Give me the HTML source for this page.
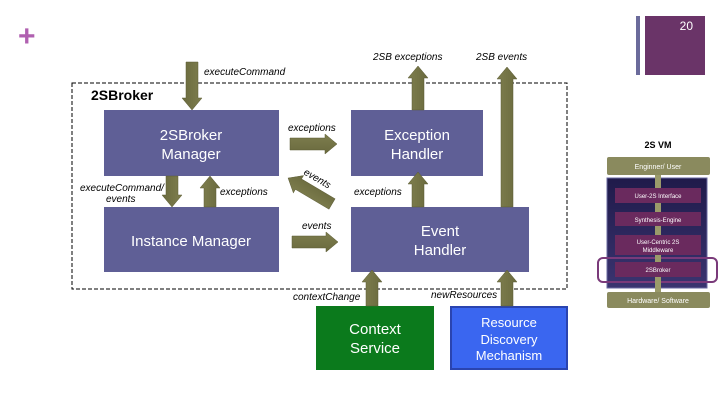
<!DOCTYPE html>
<html><head><meta charset="utf-8"><style>
html,body{margin:0;padding:0;background:#fff;}
svg{display:block;}
text{font-family:"Liberation Sans",sans-serif;}
</style></head><body>
<svg width="720" height="405" viewBox="0 0 720 405" xmlns="http://www.w3.org/2000/svg">
<defs>
<linearGradient id="ag" x1="0" y1="-1" x2="0" y2="1" gradientUnits="objectBoundingBox">
<stop offset="0" stop-color="#a4a47a"/><stop offset="0.5" stop-color="#7e7e4e"/><stop offset="1" stop-color="#6a6a3e"/>
</linearGradient>
<linearGradient id="vm" x1="0" y1="0" x2="0" y2="1">
<stop offset="0" stop-color="#1f1a4a"/><stop offset="1" stop-color="#3a3470"/>
</linearGradient>
<path id="ar" d="M0,-6 L-12,-6 L-12,-10 L0,0 L-12,10 L-12,6 Z"/>
</defs>
<!-- header -->
<text x="18" y="46" font-size="30" fill="#b060b0" font-weight="bold">+</text>
<rect x="636" y="16" width="4" height="59" fill="#6b6b9b"/>
<rect x="645" y="16" width="60" height="59" fill="#6a3468"/>
<text x="693" y="30" font-size="12" fill="#fff" text-anchor="end">20</text>

<!-- dashed container -->
<rect x="72" y="83" width="495" height="206" fill="none" stroke="#000" stroke-width="1" stroke-dasharray="4,2"/>
<text x="91" y="100" font-size="14" font-weight="bold">2SBroker</text>

<!-- boxes -->
<rect x="104" y="110" width="175" height="66" fill="#5f5f96"/>
<text x="191" y="140" font-size="15" fill="#fff" text-anchor="middle">2SBroker</text>
<text x="191" y="159" font-size="15" fill="#fff" text-anchor="middle">Manager</text>
<rect x="104" y="207" width="175" height="65" fill="#5f5f96"/>
<text x="191" y="246" font-size="15" fill="#fff" text-anchor="middle">Instance Manager</text>
<rect x="351" y="110" width="132" height="66" fill="#5f5f96"/>
<text x="417" y="140" font-size="15" fill="#fff" text-anchor="middle">Exception</text>
<text x="417" y="159" font-size="15" fill="#fff" text-anchor="middle">Handler</text>
<rect x="351" y="207" width="178" height="65" fill="#5f5f96"/>
<text x="440" y="236" font-size="15" fill="#fff" text-anchor="middle">Event</text>
<text x="440" y="255" font-size="15" fill="#fff" text-anchor="middle">Handler</text>
<rect x="316" y="306" width="118" height="64" fill="#0b7a1c"/>
<text x="375" y="334" font-size="15" fill="#fff" text-anchor="middle">Context</text>
<text x="375" y="353" font-size="15" fill="#fff" text-anchor="middle">Service</text>
<rect x="451" y="307" width="116" height="62" fill="#3a66f0" stroke="#2a44b0" stroke-width="2"/>
<text x="509" y="327" font-size="13" fill="#fff" text-anchor="middle">Resource</text>
<text x="509" y="344" font-size="13" fill="#fff" text-anchor="middle">Discovery</text>
<text x="509" y="360" font-size="13" fill="#fff" text-anchor="middle">Mechanism</text>

<!-- arrows -->
<g fill="url(#ag)" stroke="#5a5a34" stroke-width="0.5">
<path transform="translate(192,62) rotate(90)" d="M0,-6 L36,-6 L36,-10 L48,0 L36,10 L36,6 L0,6 Z"/>
<path transform="translate(172,176) rotate(90)" d="M0,-6 L19,-6 L19,-10 L31,0 L19,10 L19,6 L0,6 Z"/>
<path transform="translate(210,207) rotate(-90)" d="M0,-6 L19,-6 L19,-10 L31,0 L19,10 L19,6 L0,6 Z"/>
<path transform="translate(290,144)" d="M0,-6 L35,-6 L35,-10 L47,0 L35,10 L35,6 L0,6 Z"/>
<path transform="translate(332,204) rotate(210.6)" d="M0,-6 L39,-6 L39,-10 L51,0 L39,10 L39,6 L0,6 Z"/>
<path transform="translate(292,242)" d="M0,-6 L34,-6 L34,-10 L46,0 L34,10 L34,6 L0,6 Z"/>
<path transform="translate(418,207) rotate(-90)" d="M0,-6 L23,-6 L23,-10 L35,0 L23,10 L23,6 L0,6 Z"/>
<path transform="translate(418,110) rotate(-90)" d="M0,-6 L32,-6 L32,-10 L44,0 L32,10 L32,6 L0,6 Z"/>
<path transform="translate(507,207) rotate(-90)" d="M0,-6 L128,-6 L128,-10 L140,0 L128,10 L128,6 L0,6 Z"/>
<path transform="translate(372,306) rotate(-90)" d="M0,-6 L24,-6 L24,-10 L36,0 L24,10 L24,6 L0,6 Z"/>
<path transform="translate(507,306) rotate(-90)" d="M0,-6 L24,-6 L24,-10 L36,0 L24,10 L24,6 L0,6 Z"/>
</g>

<!-- labels -->
<g font-size="10" font-style="italic" fill="#000">
<text x="204" y="75">executeCommand</text>
<text x="373" y="60">2SB exceptions</text>
<text x="476" y="60">2SB events</text>
<text x="288" y="131">exceptions</text>
<text x="303" y="174" transform="rotate(30 303 174)">events</text>
<text x="80" y="191">executeCommand/</text>
<text x="106" y="202">events</text>
<text x="220" y="195">exceptions</text>
<text x="354" y="195">exceptions</text>
<text x="302" y="229">events</text>
<text x="293" y="300">contextChange</text>
<text x="431" y="298">newResources</text>
</g>

<!-- right mini diagram -->
<text x="658" y="148" font-size="9" font-weight="bold" text-anchor="middle">2S VM</text>
<rect x="607" y="157" width="103" height="18" rx="2" fill="#8a8a5e"/>
<text x="658" y="169" font-size="7" fill="#fff" text-anchor="middle">Enginner/ User</text>
<rect x="607" y="178" width="100" height="110" fill="url(#vm)" stroke="#6a6aa0" stroke-width="1"/>
<rect x="615" y="188" width="86" height="15" fill="#6a2a5e"/>
<text x="658" y="198" font-size="6" fill="#fff" text-anchor="middle">User-2S Interface</text>
<rect x="615" y="212" width="86" height="14" fill="#6a2a5e"/>
<text x="658" y="222" font-size="6" fill="#fff" text-anchor="middle">Synthesis-Engine</text>
<rect x="615" y="235" width="86" height="20" fill="#6a2a5e"/>
<text x="658" y="244" font-size="6" fill="#fff" text-anchor="middle">User-Centric 2S</text>
<text x="658" y="252" font-size="6" fill="#fff" text-anchor="middle">Middleware</text>
<rect x="615" y="262" width="86" height="15" fill="#6a2a5e"/>
<text x="658" y="272" font-size="6" fill="#fff" text-anchor="middle">2SBroker</text>
<rect x="598" y="258" width="119" height="24" rx="5" fill="none" stroke="#7a3a7a" stroke-width="2"/>
<g fill="#9a9a6a">
<rect x="655" y="175" width="6" height="13"/><rect x="655" y="203" width="6" height="9"/><rect x="655" y="226" width="6" height="9"/><rect x="655" y="255" width="6" height="7"/><rect x="655" y="277" width="6" height="15"/>
</g>
<rect x="607" y="292" width="103" height="16" rx="2" fill="#8a8a5e"/>
<text x="658" y="303" font-size="7" fill="#fff" text-anchor="middle">Hardware/ Software</text>
</svg>
</body></html>
